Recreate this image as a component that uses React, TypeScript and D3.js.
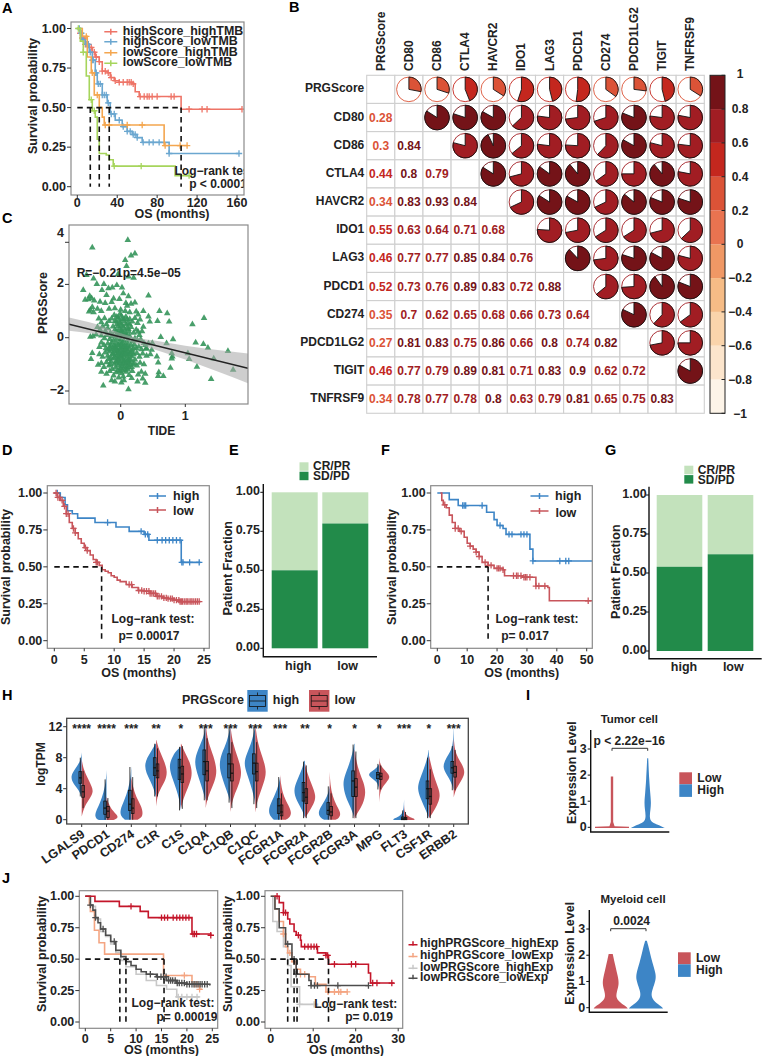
import React from "react";
import * as d3 from "d3";

const FF = "'Liberation Sans', Arial, sans-serif";
type P = [number, number];

// ---------- Panel A ----------
const aHighHigh: P[] = [[0,1],[3,.97],[5,.94],[8,.9],[12,.88],[15,.85],[18,.82],[22,.79],[25,.73],[30,.72],[33,.69],[37,.67],[42,.66],[55,.65],[58,.6],[62,.57],[104,.49],[165,.49]];
const aHighLow: P[] = [[0,1],[3,.97],[5,.93],[8,.9],[12,.85],[15,.8],[18,.72],[20,.65],[25,.58],[30,.53],[33,.46],[38,.42],[45,.38],[50,.35],[55,.33],[60,.31],[65,.28],[91,.28],[92,.21],[162,.21]];
const aLowHigh: P[] = [[0,1],[5,.95],[10,.82],[14,.72],[17,.58],[22,.5],[25,.44],[27,.39],[86,.39],[87,.26],[110,.26]];
const aLowLow: P[] = [[0,1],[3,.92],[6,.85],[9,.7],[12,.55],[15,.48],[18,.44],[20,.3],[22,.21],[29,.2],[32,.17],[36,.13],[97,.13],[98,.07],[112,.07]];
const aCensHH = [3,5,8,11,14,17,19,22,25,28,31,34,38,42,46,50,52,54,56,63,67,70,72,75,80,94,97,112,125,130,165];
const aCensHL = [2,4,6,9,11,13,15,16,18,19,21,23,25,27,29,31,34,37,42,46,50,53,56,58,60,66,72,76,82,92,162];
const aCensLH = [9,15,20,28,32,50,65,88,103,110];
const aCensLL = [1,6,14,17,37,64,112];

// ---------- Panel B ----------
const genes = ["PRGScore","CD80","CD86","CTLA4","HAVCR2","IDO1","LAG3","PDCD1","CD274","PDCD1LG2","TIGIT","TNFRSF9"];
const corrLower: number[][] = [
  [],
  [.28],
  [.3,.84],
  [.44,.8,.79],
  [.34,.83,.93,.84],
  [.55,.63,.64,.71,.68],
  [.46,.77,.77,.85,.84,.76],
  [.52,.73,.76,.89,.83,.72,.88],
  [.35,.7,.62,.65,.68,.66,.73,.64],
  [.27,.81,.83,.75,.86,.66,.8,.74,.82],
  [.46,.77,.79,.89,.81,.71,.83,.9,.62,.72],
  [.34,.78,.77,.78,.8,.63,.79,.81,.65,.75,.83],
];
const corrColors = ["#FDF4E8","#FCE5CC","#FAD4AB","#F6BC86","#F09865","#E97350","#DB5337","#C4271E","#A11D23","#741318"];
const corrTicks = [1,.8,.6,.4,.2,0,-.2,-.4,-.6,-.8,-1];

// ---------- Panel C ----------
const scatter: P[] = [
[.11,3.66],[-.44,3.38],[.22,3.16],[.16,3.08],[.07,2.91],[.09,2.69],[-.53,2.35],[-.04,2.39],[.12,2.29],[.2,2.25],[-.42,2.22],[-.26,2.01],[-.58,1.79],[-.37,2.01],[-.29,1.79],
[-.19,1.85],[-.13,1.88],[-.06,1.97],[.02,1.88],[-.22,1.6],[-.11,1.47],[.04,1.66],[.12,1.55],[.43,1.58],[-.48,1.56],[-.55,1.42],[-.45,1.48],[-.5,1.44],[-.41,1.39],[-.32,1.35],[-.24,1.3],
[-.14,1.34],[-.02,1.45],[.08,1.3],[.1,1.2],[.16,1.27],[.22,1.32],[-.47,1.05],[-.44,1.15],[-.49,.98],[-.42,.95],[-.36,1.08],[-.3,1.0],[-.18,1.08],[-.09,1.1],[.0,1.05],[.07,1.0],[.14,.95],[.24,.98],[.35,1],[.27,.87],
[.6,1],[.72,.91],[.57,.62],[.75,.6],[.43,.79],[.45,.6],[.35,.41],[.27,.22],[1.29,.74],[1.11,.5],
[-.34,.72],[-.3,.58],[-.25,.73],[-.22,.5],[-.18,.62],[-.14,.72],[-.1,.85],[-.07,.6],[-.04,.75],[-.01,.9],[.02,.7],[.05,.62],[.08,.78],[.11,.55],[.14,.7],[.18,.6],[.22,.74],[.26,.55],[.3,.68],
[-.36,.4],[-.32,.3],[-.28,.42],[-.24,.25],[-.2,.35],[-.16,.18],[-.12,.42],[-.09,.3],[-.06,.5],[-.04,.2],[-.02,.35],[0,.52],[.02,.28],[.04,.42],[.07,.15],[.1,.36],[.13,.22],[.16,.4],[.2,.18],[.24,.3],[.29,.1],[.33,.24],
[-.47,.03],[-.43,.05],[-.38,.12],[-.3,.08],[-.25,-.02],[-.21,.1],[-.17,-.05],[-.14,.05],[-.11,-.1],[-.08,.06],[-.06,-.04],[-.03,.1],[0,-.05],[.03,.08],[.05,-.12],[.08,.02],[.11,-.08],[.14,.05],[.18,-.14],[.22,-.02],[.26,-.1],[.31,-.06],[.36,-.2],[.62,.02],[.81,-.06],
[-.33,-.35],[-.3,-.18],[-.26,-.28],[-.23,-.4],[-.2,-.22],[-.17,-.34],[-.14,-.18],[-.12,-.42],[-.1,-.27],[-.08,-.38],[-.06,-.2],[-.05,-.48],[-.03,-.3],[-.01,-.42],[.01,-.24],[.03,-.36],[.05,-.5],[.07,-.28],[.09,-.44],[.11,-.22],[.13,-.38],[.16,-.3],[.18,-.46],[.21,-.25],[.24,-.4],[.28,-.33],[.32,-.44],[.38,-.28],[.43,-.22],[.49,-.2],[.4,-.4],[.48,-.46],[.39,-.42],
[-.44,-.58],[-.46,-.8],[-.33,-.62],[-.28,-.72],[-.24,-.56],[-.2,-.68],[-.17,-.52],[-.15,-.76],[-.12,-.6],[-.1,-.5],[-.09,-.72],[-.07,-.58],[-.05,-.66],[-.04,-.82],[-.02,-.55],[-.01,-.7],[.01,-.6],[.02,-.78],[.04,-.52],[.05,-.68],[.07,-.84],[.08,-.58],[.1,-.72],[.11,-.62],[.13,-.8],[.15,-.55],[.17,-.7],[.2,-.62],[.22,-.82],[.25,-.58],[.29,-.72],[.34,-.6],[.4,-.68],[.46,-.62],[.56,-.71],[.79,-.59],[.8,-.71],[.79,-.78],[1.04,-.59],[1.06,-.8],
[-.35,-1.02],[-.3,-.95],[-.26,-1.1],[-.22,-.92],[-.18,-1.05],[-.15,-.9],[-.13,-1.18],[-.1,-.98],[-.08,-1.12],[-.06,-.92],[-.04,-1.05],[-.02,-.95],[0,-1.15],[.02,-1.0],[.04,-.9],[.06,-1.08],[.08,-.96],[.1,-.88],[.12,-1.02],[.14,-.92],[.17,-1.1],[.21,-.96],[.25,-1.05],[.3,-.94],[.36,-1.0],[.58,-.93],[.77,-1.13],[1.18,-1.09],[1.44,-.78],[1.66,-.5],[1.74,-1.21],[1.16,-.18],[1.28,-.24],[1.35,-.38],[.71,-.21],
[-.3,-1.28],[-.22,-1.36],[-.17,-1.25],[-.11,-1.42],[-.07,-1.3],[-.03,-1.5],[.01,-1.34],[.04,-1.46],[.08,-1.28],[.13,-1.4],[.18,-1.25],[.27,-1.38],[.32,-1.28],[.38,-1.36],[.59,-1.3],[.66,-1.44],[.58,-1.44],[.12,-1.94],[-.27,-1.8],[.26,-1.65],[.38,-1.69],[.34,-1.53],[.05,-1.6],[-.09,-1.65],[.01,-1.68],[1.4,-1.55],[-.14,-1.6],[.17,-1.52],
[-.16,-.44],[-.13,-.62],[-.11,-.78],[-.09,-.35],[-.07,-.9],[-.06,-.46],[-.05,-.76],[-.04,-.28],[-.03,-.6],[-.02,-.88],[-.01,-.16],[0,-.36],[0,-.72],[.01,-.48],[.02,-1.08],[.03,-.64],[.03,-.2],[.04,-.82],[.05,-.34],[.06,-.94],[.07,-.6],[.08,-.44],[.09,-1.12],[.1,-.32],[.11,-.86],[.12,-.5],[.13,-1.12],[.14,-.64],[.16,-.84],[.18,-.56],[.19,-1.0],[.2,-.4],[-.12,.1],[-.09,.62],[-.07,.24],[-.06,.78],[-.05,.08],[-.04,.44],[-.03,.64],[-.02,.12],[-.01,.56],[0,.24],[.01,.82],[.02,.45],[.03,.18],[.05,.7],[.06,.3],[.08,.5],[.09,.14],[.1,.68],[.12,.32],[.14,.5],[-.04,-1.22],[-.01,-1.26],[.03,-1.22],[.07,-1.2],[.11,-1.2],[-.19,-.8],[-.16,-1.0],[.15,-1.02],[-.2,-.46],[-.15,-.3],
];
const trendX = [-.8,1.97];
const trendY = [.51,-1.15];
const bandX = [-.8,-.4,0,.2,.5,1,1.5,1.97];
const bandTop = [.76,.52,.17,.03,-.1,-.3,-.46,-.59];
const bandBottom = [.26,.14,-.06,-.2,-.42,-.82,-1.27,-1.71];

// ---------- Panel D ----------
const dHigh: P[] = [[0,1],[1,.97],[1.8,.92],[2.2,.88],[3,.86],[3.9,.83],[6.8,.8],[10.3,.77],[12.5,.74],[15,.72],[15.8,.68],[21.2,.53],[24.4,.53]];
const dLow: P[] = [[0,1],[.5,.97],[1,.95],[1.5,.91],[2,.86],[2.5,.8],[3,.76],[3.5,.73],[4,.69],[4.5,.66],[5,.63],[5.5,.61],[6,.58],[6.5,.55],[7,.53],[7.5,.51],[8,.48],[8.5,.47],[9,.46],[9.5,.44],[10,.43],[10.5,.41],[11,.4],[12,.38],[13,.36],[14,.34],[15,.335],[16,.32],[17,.3],[18,.29],[19,.285],[20,.275],[21,.265],[24.3,.26]];
const dCensHigh = [.5,1,8.9,14.5,15.2,15.6,17.2,18,18.6,19.2,19.8,20.4,21,21.3,21.5,22.6,24.2];
const dCensLow = [.3,.6,.9,1.3,1.7,2,2.3,3.2,3.5,5.2,5.5,7,7.2,12.5,12.9,14.1,14.6,15,15.4,15.8,16,16.3,16.6,16.9,17.2,17.5,17.9,18.3,18.7,19,19.4,19.7,20,20.4,20.8,21,21.2,21.4,21.7,22,22.2,22.5,22.8,23,23.3,23.6,23.9,24.2];

// ---------- Panel E / G ----------
const responseGroups = ["high","low"];
const eSdPd = [.5,.8];
const gSdPd = [.54,.62];

// ---------- Panel F ----------
const fHigh: P[] = [[0,1],[4,.955],[7,.915],[16.5,.87],[19,.82],[20,.78],[22,.76],[23,.72],[30,.72],[31,.62],[32,.54],[52,.54]];
const fLow: P[] = [[1,1],[1.5,.95],[2,.92],[3,.9],[4,.85],[5,.8],[6,.76],[7.5,.74],[9,.7],[10,.66],[11,.64],[12,.62],[13,.6],[14,.57],[15,.53],[17,.51],[19,.49],[22,.48],[22.5,.44],[28,.44],[28.5,.43],[33,.37],[37,.36],[37.5,.27],[52,.27]];
const fCensHigh = [8.5,9,9.5,15,21,24,25,28,29,30,32,41,43,44];
const fCensLow = [2.5,6,7,8,11,13,14,16,17,18,20,20.5,21,22,25.5,26.5,27,28,29,29.5,30,31,33,34,36,50.5];

// ---------- Panel H ----------
const hGenes = ["LGALS9","PDCD1","CD274","C1R","C1S","C1QA","C1QB","C1QC","FCGR1A","FCGR2A","FCGR2B","FCGR3A","MPG","FLT3","CSF1R","ERBB2"];
const hStars = ["****","****","***","**","*","***","***","***","***","**","*","*","*","***","*","***"];
const violinHigh: P[][] = [
  [[8.7,0],[7.6,.08],[6.6,.55],[5.6,1],[4.6,.72],[3.7,.18],[2.8,0]],
  [[6.4,0],[5,.05],[3.5,.25],[2.2,.55],[1,.95],[.4,1],[0,.8],[-.05,.6]],
  [[6.9,0],[5.5,.06],[4,.25],[2.5,.6],[1.2,1],[.4,.9],[0,.55]],
  [[9.8,.05],[9,.35],[8,.8],[7,1],[6,.85],[5,.5],[4,.2],[2.8,0]],
  [[9.4,.02],[8.8,.5],[7.6,.9],[6.8,1],[5.5,.8],[4,.4],[2.5,.12],[1.2,0]],
  [[12,.02],[10.5,.2],[9,.7],[7.5,1],[6,.75],[4.5,.4],[3,.1],[2.5,0]],
  [[12,.02],[10,.3],[8.5,.8],[7,1],[5.5,.75],[4,.4],[3,.15],[2.2,0]],
  [[12,.02],[10,.3],[8.5,.75],[7.3,1],[6,.75],[4.5,.4],[3,.12],[2,0]],
  [[5.5,0],[4.5,.12],[3.2,.45],[2,.85],[1.2,1],[.5,.9],[0,.55]],
  [[7.6,.05],[6.5,.25],[5,.7],[3.8,1],[2.5,.75],[1.2,.2],[.2,0]],
  [[4.4,0],[3.4,.12],[2.5,.4],[1.6,.8],[.9,1],[.3,.85],[0,.5]],
  [[9.8,.03],[8.5,.18],[7,.5],[5.5,.9],[4.5,1],[3,.8],[1.5,.3],[.2,0]],
  [[7.2,0],[6.7,.2],[6.2,.7],[5.8,1],[5.3,.6],[4.8,.15],[3.9,0]],
  [[2.6,0],[1.8,.03],[1,.08],[.4,.4],[.1,1],[-.05,.9]],
  [[9,.02],[8,.12],[6.5,.45],[5,.85],[4,1],[2.8,.75],[1.2,.25],[.2,0]],
  [[12.2,0],[10,.05],[9,.2],[8,.65],[6.8,1],[5.8,.6],[4.8,.2],[3.8,0]],
];
const violinLow: P[][] = [
  [[7.8,0],[6.5,.15],[5.3,.55],[4.2,.9],[3.6,1],[2.8,.75],[1.8,.25],[.4,0]],
  [[3,0],[2,.2],[1.3,.45],[.6,.95],[.2,1],[-.05,.6]],
  [[5.5,0],[4.2,.15],[3,.4],[1.8,.85],[1,1],[.3,.95],[0,.55]],
  [[10.3,.02],[9,.25],[7.6,.7],[6.2,1],[5,.8],[3.8,.3],[2.8,.08],[1.7,0]],
  [[9.8,.02],[8.8,.3],[7.4,.8],[6,1],[4.8,.8],[3.4,.4],[2.2,.12],[1.4,0]],
  [[12.1,.02],[10,.2],[8.2,.7],[6.3,1],[5,.8],[3.5,.35],[2.4,.1],[1.5,0]],
  [[11.8,.02],[9.8,.2],[8,.65],[6.2,1],[4.8,.8],[3.3,.35],[2,.1],[1,0]],
  [[12,.02],[9.8,.22],[8,.65],[6.2,1],[4.8,.75],[3.2,.35],[2,.1],[.9,0]],
  [[5.8,0],[4.5,.08],[3,.3],[1.8,.75],[.9,1],[.3,.85],[0,.5]],
  [[7.2,.02],[6,.2],[4.5,.6],[3,1],[2,.75],[1,.35],[.2,0]],
  [[6.2,0],[4.5,.05],[3,.25],[1.8,.6],[.8,1],[.2,.8],[0,.5]],
  [[9,.02],[7.8,.12],[6.2,.4],[4.8,.8],[3.5,1],[2,.75],[1,.3],[.1,0]],
  [[8,0],[7,.08],[6.2,.6],[5.5,1],[4.8,.6],[4,.15],[3,.03],[2.2,0]],
  [[2,0],[1.2,.03],[.6,.15],[.2,.7],[.05,1],[-.05,.8]],
  [[8.2,.02],[7,.2],[5.5,.45],[4,.85],[3,1],[1.8,.7],[.8,.3],[.2,0]],
  [[10.3,.02],[9,.1],[8,.35],[7,.8],[6,1],[5,.65],[4,.2],[2.9,0]],
];
const boxHigh: number[][] = [[3,4.7,5.4,6.2,8],[0,.7,1.5,2.4,5.2],[0,1.2,2,3.8,6.8],[3,5.7,6.7,8,9.8],[1.2,5.2,6.7,7.8,9.4],[2.5,5.8,7.5,9,12],[2.2,5.4,7.2,8.5,12],[2,5.9,7.3,8.5,12],[0,.8,1.8,2.7,5.5],[.2,2.4,3.5,4.8,7.5],[0,.7,1.2,2.2,4.3],[.2,3,5,6.3,9.7],[3.9,5.3,5.8,6.1,7.2],[0,0,.1,.35,1.2],[.2,2.7,4,5,8],[3.8,6,6.7,7.5,9.5]];
const boxLow: number[][] = [[1.5,2.9,3.6,4.4,6.3],[0,.3,1.1,1.7,2.8],[0,.8,1.5,2.7,5.5],[3,5.4,6.3,7.2,9.2],[1.4,4.8,5.9,6.9,9.5],[2.5,5,6.3,7.5,10.5],[1.5,5,6,7.2,10],[1.5,5,6.2,7.3,10],[0,.5,1,1.9,3.4],[.2,2.1,2.9,4,7],[0,.5,1,1.7,3.4],[.2,3,4.2,5.3,8.8],[3.9,5.2,5.6,6,7],[0,0,.1,.3,1],[.2,2,3,4,6.5],[3.8,5.5,6.1,6.9,9]];

// ---------- Panel I ----------
const tumorLow: P[] = [[-.03,1],[.02,1],[.04,.15],[.2,.07],[1.95,.07]];
const tumorHigh: P[] = [[-.03,1],[.03,.85],[.12,.5],[.2,.2],[.4,.1],[.7,.17],[.95,.2],[1.3,.15],[1.8,.09],[2.65,.03]];
const myeloidLow: P[] = [[-.03,1],[.03,.95],[.15,.65],[.35,.3],[.6,.35],[.9,.5],[1.2,.42],[1.6,.27],[2.05,.12]];
const myeloidHigh: P[] = [[-.03,1],[.03,.95],[.15,.65],[.4,.27],[.7,.38],[1.05,.58],[1.3,.58],[1.7,.38],[2.2,.2],[2.55,.05]];

// ---------- Panel J ----------
const jLeftRed: P[] = [[0,1],[1.9,.96],[6.7,.92],[10.8,.88],[12.4,.83],[21,.7],[24.7,.69]];
const jLeftOrange: P[] = [[0,1],[.8,.93],[1,.88],[1.8,.73],[2.7,.63],[3.8,.54],[15.4,.37],[21,.3],[22.5,.26],[23,.26]];
const jLeftGrey: P[] = [[0,1],[1,.92],[2,.82],[3,.72],[4,.68],[5,.62],[6,.55],[7,.49],[8,.44],[10,.38],[12,.33],[14,.29],[16,.26],[18,.2],[22.5,.2]];
const jLeftDark: P[] = [[0,1],[1,.93],[1.5,.89],[2,.83],[2.5,.79],[3,.74],[4,.69],[5,.64],[6,.57],[7,.52],[8,.48],[9,.45],[10,.42],[11,.4],[12,.38],[14,.36],[16,.33],[18,.31],[20,.3],[24.5,.29]];
const jLeftCensRed = [9,15,15.6,16.2,17.3,18,18.6,19.2,19.8,20.4,21.2,21.5,21.9,24.7];
const jLeftCensOrange = [19.5,21.5,22,22.5];
const jLeftCensGrey = [18.3,19,20,21,22];
const jLeftCensDark = [1,2,3.5,5.7,12.8,14.2,14.9,15.4,15.9,16.4,16.8,17.2,17.7,18.1,18.5,19,19.5,20,20.5,21,21.4,21.8,22.2,22.6,23,23.5,24];
const jRightRed: P[] = [[1,1],[2,.95],[3,.87],[4,.82],[4.5,.78],[5.5,.72],[6,.69],[7,.65],[7.2,.6],[11,.55],[13,.53],[13.6,.46],[23,.39],[23.5,.31],[29,.31]];
const jRightOrange: P[] = [[0,1],[1,.9],[2,.8],[3,.7],[3.5,.6],[4,.55],[5,.48],[6,.42],[7,.38],[9,.36],[10.5,.3],[13,.24],[18,.24]];
const jRightGrey: P[] = [[0,1],[.5,.8],[1.5,.72],[3,.6],[4,.45],[4.8,.28],[6.8,.14],[10,.14],[11,.13]];
const jRightDark: P[] = [[0,1],[1,.9],[2,.75],[3.5,.62],[5,.5],[6,.38],[9,.33],[9.5,.29],[23,.29]];
const jRightCensRed = [1.5,3,3.5,6.5,8,8.8,9.5,10.2,10.8,13,13.4,15,19,20,24,25,28.5];
const jRightCensOrange = [3,4.5,5.5,7,8,13.5,15,16,16.5,18];
const jRightCensGrey = [6.8,10.2];
const jRightCensDark = [4,5.5,6,9.5,10.3,11,15.8,23];

// ---------- Colours ----------
const BLUE = "#3D85C6";
const RED = "#C8555B";
const LIGHT_GREEN = "#C3E2BC";
const DARK_GREEN = "#228B4A";
const A_COLORS = ["#EE7467","#6BA7D0","#F4A64F","#A6D55C"];
const J_COLORS = ["#C4162A","#F4A582","#C8C8C8","#4D4D4D"];

const surv = (pts: P[], t: number) => {
  const i = d3.bisectRight(pts.map(p => p[0]), t) - 1;
  return pts[Math.max(0, i)][1];
};

interface Serie { pts: P[]; cens: number[]; color: string; width?: number }
interface KMProps {
  id: string;
  box: [number, number, number, number];
  xRange: [number, number];
  xDomain: [number, number];
  yRange: [number, number];
  xTicks: number[];
  series: Serie[];
  dashH: number;
  dashV: number[];
  xTitleAt: [number, number];
  yTitleAt: [number, number];
  tickLabelY: number;
  notes: { t: string; x: number; y: number }[];
  fs?: number;
}
function KM(p: KMProps) {
  const [l, r, t, b] = p.box;
  const x = d3.scaleLinear().domain(p.xDomain).range(p.xRange);
  const y = d3.scaleLinear().domain([0, 1]).range(p.yRange);
  const line = d3.line<P>().x(d => x(d[0])).y(d => y(d[1])).curve(d3.curveStepAfter);
  const yTicks = [0, .25, .5, .75, 1];
  const fs = p.fs ?? 12.5;
  return (
    <g fontFamily={FF}>
      <defs><clipPath id={p.id}><rect x={l} y={t} width={r - l} height={b - t} /></clipPath></defs>
      <g clipPath={`url(#${p.id})`}>
        {p.series.map((s, i) => (
          <g key={i} stroke={s.color} fill="none" strokeWidth={s.width ?? 1.6}>
            <path d={line(s.pts) as string} />
            {s.cens.map((c, k) => {
              const cx = x(c), cy = y(surv(s.pts, c));
              return <path key={k} strokeWidth={1.3} d={`M${cx - 3.2},${cy}H${cx + 3.2}M${cx},${cy - 3.2}V${cy + 3.2}`} />;
            })}
          </g>
        ))}
        <g stroke="#111" strokeWidth={1.6} strokeDasharray="5.5 4" fill="none">
          <line x1={x(0)} x2={x(p.dashH)} y1={y(.5)} y2={y(.5)} />
          {p.dashV.map((v, i) => <line key={i} x1={x(v)} x2={x(v)} y1={y(.5)} y2={y(0)} />)}
        </g>
        {p.notes.map((n, i) => (
          <text key={i} x={n.x} y={n.y} textAnchor="middle" dominantBaseline="central" fontSize={12} fontWeight="bold" fill="#222">{n.t}</text>
        ))}
      </g>
      <rect x={l} y={t} width={r - l} height={b - t} fill="none" stroke="#8a8a8a" strokeWidth={1.2} />
      {yTicks.map(v => (
        <g key={v}>
          <line x1={l - 4} x2={l} y1={y(v)} y2={y(v)} stroke="#333" />
          <text x={l - 5} y={y(v)} textAnchor="end" dominantBaseline="central" fontSize={fs} fontWeight="bold" fill="#222">{v.toFixed(2)}</text>
        </g>
      ))}
      {p.xTicks.map(v => (
        <g key={v}>
          <line x1={x(v)} x2={x(v)} y1={b} y2={b + 3} stroke="#333" />
          <text x={x(v)} y={p.tickLabelY} textAnchor="middle" dominantBaseline="central" fontSize={fs} fontWeight="bold" fill="#222">{v}</text>
        </g>
      ))}
      <text x={p.xTitleAt[0]} y={p.xTitleAt[1]} textAnchor="middle" dominantBaseline="central" fontSize={12.5} fontWeight="bold" fill="#222">OS (months)</text>
      <text transform={`translate(${p.yTitleAt[0]},${p.yTitleAt[1]}) rotate(-90)`} textAnchor="middle" dominantBaseline="central" fontSize={12.5} fontWeight="bold" fill="#222">Survival probability</text>
    </g>
  );
}

function KeyLine({ x, x2, y, color }: { x: number; x2: number; y: number; color: string }) {
  const m = (x + x2) / 2;
  return <path stroke={color} fill="none" strokeWidth={1.5} d={`M${x},${y}H${x2}M${m},${y - 3}V${y + 3}`} />;
}

function Letter({ t, x, y }: { t: string; x: number; y: number }) {
  return <text x={x} y={y} fontFamily={FF} fontSize={14.5} fontWeight="bold" fill="#000">{t}</text>;
}

function Corr() {
  const l = 366.7, r = 704.3, t = 75.3, b = 413.3;
  const n = genes.length;
  const band = d3.scaleBand<number>().domain(d3.range(n)).range([l, r]);
  const bandY = d3.scaleBand<number>().domain(d3.range(n)).range([t, b]);
  const color = d3.scaleQuantize<string>().domain([-1, 1]).range(corrColors);
  const barY = d3.scaleLinear().domain([-1, 1]).range([b, t]);
  const R = 12.3;
  const arc = d3.arc<{ v: number }>().innerRadius(0).outerRadius(R).startAngle(0).endAngle(d => 2 * Math.PI * d.v);
  const w = band.bandwidth();
  const binEdges = d3.range(10).map(i => -1 + i * .2);
  return (
    <g fontFamily={FF} fontWeight="bold">
      {genes.map((g, i) => (
        <g key={g}>
          <text x={364.3} y={bandY(i)! + w / 2 - 1} textAnchor="end" dominantBaseline="central" fontSize={12} fill="#222">{g}</text>
          <text transform={`translate(${band(i)! + w / 2},71) rotate(-90)`} dominantBaseline="central" fontSize={12} fill="#222">{g}</text>
        </g>
      ))}
      {d3.range(n).map(i => d3.range(n).map(j => (
        <rect key={`${i}-${j}`} x={band(j)} y={bandY(i)} width={w} height={w} fill="#fff" stroke="#cfcfcf" strokeWidth={1.1} />
      )))}
      {corrLower.map((row, i) => row.map((v, j) => {
        const c = color(v);
        const cx = band(j)! + w / 2, cy = bandY(i)! + w / 2;
        const cu = band(i)! + w / 2, cv = bandY(j)! + w / 2;
        return (
          <g key={`${i}-${j}`}>
            <text x={cx} y={cy} textAnchor="middle" dominantBaseline="central" fontSize={12} fill={c}>{String(v)}</text>
            <g transform={`translate(${cu},${cv})`}>
              <circle r={R} fill="#fff" stroke={c} strokeWidth={.9} />
              <path d={arc({ v }) as string} fill={c} stroke="#111" strokeWidth={.9} />
            </g>
          </g>
        );
      }))}
      {binEdges.map((e, i) => (
        <rect key={i} x={710} width={15} y={barY(e + .2)} height={barY(e) - barY(e + .2)} fill={corrColors[i]} />
      ))}
      <rect x={710} y={t} width={15} height={b - t} fill="none" stroke="#222" strokeWidth={1} />
      {corrTicks.map(v => (
        <g key={v}>
          <line x1={721.5} x2={725} y1={barY(v)} y2={barY(v)} stroke="#222" />
          <text x={740} y={barY(v) - (v === 1 ? 1 : v === -1 ? -1 : 0)} textAnchor="middle" dominantBaseline="central" fontSize={12} fill="#222">{String(v).replace("-", "−")}</text>
        </g>
      ))}
    </g>
  );
}

function Scatter() {
  const l = 69, r = 248, t = 225, b = 404;
  const x = d3.scaleLinear().domain([0, 1]).range([120.7, 185.3]);
  const y = d3.scaleLinear().domain([-2, 0]).range([391, 337.7]);
  const tri = d3.symbol().type(d3.symbolTriangle).size(19)() as string;
  const band = d3.area<number>().x((_, i) => x(bandX[i])).y0((_, i) => y(bandBottom[i])).y1((_, i) => y(bandTop[i])).curve(d3.curveMonotoneX);
  const line = d3.line<number>().x((_, i) => x(trendX[i])).y(d => y(d));
  return (
    <g fontFamily={FF} fontWeight="bold" fill="#222">
      <defs><clipPath id="cclip"><rect x={l} y={t} width={r - l} height={b - t} /></clipPath></defs>
      <g clipPath="url(#cclip)">
        {scatter.map((p, i) => <path key={i} d={tri} transform={`translate(${x(p[0])},${y(p[1])})`} fill="#35955B" fillOpacity={.9} />)}
        <path d={band(bandX) as string} fill="#a6a6a6" fillOpacity={.55} />
        <path d={line(trendY) as string} stroke="#222" strokeWidth={1.5} fill="none" />
      </g>
      <rect x={l} y={t} width={r - l} height={b - t} fill="none" stroke="#8a8a8a" strokeWidth={1.2} />
      {[-2, 0, 2].map(v => (
        <g key={v}>
          <line x1={l - 4} x2={l} y1={y(v)} y2={y(v)} stroke="#333" />
          <text x={l - 5} y={y(v) - 1} textAnchor="end" dominantBaseline="central" fontSize={12.5}>{String(v).replace("-", "−")}</text>
        </g>
      ))}
      <line x1={l - 4} x2={l} y1={242.3} y2={242.3} stroke="#333" />
      <text x={l - 5} y={233} textAnchor="end" dominantBaseline="central" fontSize={12.5}>4</text>
      {[0, 1].map(v => (
        <g key={v}>
          <line x1={x(v)} x2={x(v)} y1={b} y2={b + 3} stroke="#333" />
          <text x={x(v)} y={416} textAnchor="middle" dominantBaseline="central" fontSize={12.5}>{v}</text>
        </g>
      ))}
      <text x={161.5} y={431} textAnchor="middle" dominantBaseline="central" fontSize={12}>TIDE</text>
      <text transform="translate(42.7,303) rotate(-90)" textAnchor="middle" dominantBaseline="central" fontSize={12.5}>PRGScore</text>
      <text x={76.7} y={272.7} dominantBaseline="central" fontSize={12}>R=−0.21p=4.5e−05</text>
    </g>
  );
}

interface BarsProps {
  axisLeft: number; axisBottom: number; axisTop: number; axisRight: number;
  barLefts: number[]; barW: number; y1: number; y0: number; values: number[];
  labelX: number[]; labelY: number; titleAt: [number, number];
  legendX: number; legendY: number; tickRight: number;
}
function Bars(p: BarsProps) {
  const y = d3.scaleLinear().domain([0, 1]).range([p.y0, p.y1]);
  return (
    <g fontFamily={FF} fontWeight="bold" fill="#222">
      {p.values.map((v, i) => (
        <g key={i}>
          <rect x={p.barLefts[i]} width={p.barW} y={y(1)} height={y(v) - y(1)} fill={LIGHT_GREEN} />
          <rect x={p.barLefts[i]} width={p.barW} y={y(v)} height={y(0) - y(v)} fill={DARK_GREEN} />
          <text x={p.labelX[i]} y={p.labelY} textAnchor="middle" dominantBaseline="central" fontSize={12.5}>{responseGroups[i]}</text>
        </g>
      ))}
      <path d={`M${p.axisLeft},${p.axisTop}V${p.axisBottom}H${p.axisRight}`} fill="none" stroke="#111" strokeWidth={1.4} />
      {[0, .25, .5, .75, 1].map(v => (
        <g key={v}>
          <line x1={p.axisLeft - 3} x2={p.axisLeft} y1={y(v)} y2={y(v)} stroke="#111" />
          <text x={p.tickRight} y={y(v) - 1} textAnchor="end" dominantBaseline="central" fontSize={12.5}>{v.toFixed(2)}</text>
        </g>
      ))}
      <text transform={`translate(${p.titleAt[0]},${p.titleAt[1]}) rotate(-90)`} textAnchor="middle" dominantBaseline="central" fontSize={12.5}>Patient Fraction</text>
      <rect x={p.legendX} y={p.legendY} width={9} height={8.5} fill={LIGHT_GREEN} />
      <rect x={p.legendX} y={p.legendY + 9.4} width={9} height={8.5} fill={DARK_GREEN} />
      <text x={p.legendX + 13.5} y={p.legendY + 4} dominantBaseline="central" fontSize={12}>CR/PR</text>
      <text x={p.legendX + 13.5} y={p.legendY + 14} dominantBaseline="central" fontSize={12}>SD/PD</text>
    </g>
  );
}

function Violins() {
  const l = 66.7, r = 468.3, t = 718.3, b = 824;
  const x = d3.scalePoint<string>().domain(hGenes).range([81.7, 453.7]);
  const y = d3.scaleLinear().domain([0, 12]).range([819.7, 726.7]);
  const wScale = d3.scaleLinear().domain([0, 1]).range([0, 11.5]);
  const area = (cx: number, dir: number) =>
    d3.area<P>().y(d => y(d[0])).x0(cx).x1(d => cx + dir * wScale(d[1])).curve(d3.curveBasis);
  const box = (cx: number, s: number[], k: string) => (
    <g key={k} stroke="#111" strokeWidth={.8} fill="none">
      <line x1={cx} x2={cx} y1={y(s[0])} y2={y(s[4])} />
      <rect x={cx - 1.35} width={2.7} y={y(s[3])} height={y(s[1]) - y(s[3])} />
      <line x1={cx - 1.35} x2={cx + 1.35} y1={y(s[2])} y2={y(s[2])} strokeWidth={1.2} />
    </g>
  );
  return (
    <g fontFamily={FF} fontWeight="bold" fill="#222">
      {hGenes.map((g, i) => {
        const cx = x(g)!;
        return (
          <g key={g}>
            <path d={area(cx, -1)(violinHigh[i]) as string} fill={BLUE} />
            <path d={area(cx, 1)(violinLow[i]) as string} fill={RED} />
            {box(cx - 1.4, boxHigh[i], "h")}
            {box(cx + 1.4, boxLow[i], "l")}
            <text x={cx} y={729} textAnchor="middle" dominantBaseline="central" fontSize={12} fill="#222">{hStars[i]}</text>
            <line x1={cx} x2={cx} y1={b} y2={b + 3} stroke="#333" />
            <text transform={`translate(${cx + 4},836) rotate(-35)`} textAnchor="end" fontSize={12.5}>{g}</text>
          </g>
        );
      })}
      <rect x={l} y={t} width={r - l} height={b - t} fill="none" stroke="#444" strokeWidth={1.3} />
      {[0, 4, 8, 12].map(v => (
        <g key={v}>
          <line x1={l - 3.5} x2={l} y1={y(v)} y2={y(v)} stroke="#333" />
          <text x={62.5} y={y(v)} textAnchor="end" dominantBaseline="central" fontSize={12.5}>{v}</text>
        </g>
      ))}
      <text transform="translate(41,764) rotate(-90)" textAnchor="middle" dominantBaseline="central" fontSize={12}>logTPM</text>
      <text x={182} y={700} dominantBaseline="central" fontSize={12.5}>PRGScore</text>
      {[{ x0: 247.3, c: BLUE, lab: "high" }, { x0: 309, c: RED, lab: "low" }].map(k => (
        <g key={k.lab}>
          <rect x={k.x0} y={690} width={20.4} height={21.7} fill={k.c} />
          <g stroke="#111" strokeWidth={.8} fill="none">
            <line x1={k.x0 + 10.2} x2={k.x0 + 10.2} y1={692.5} y2={709.5} />
            <rect x={k.x0 + 2.2} y={695.5} width={16} height={11} fill={k.c} />
            <line x1={k.x0 + 2.2} x2={k.x0 + 18.2} y1={701} y2={701} />
          </g>
          <text x={k.x0 + 25.5} y={700} dominantBaseline="central" fontSize={12.5}>{k.lab}</text>
        </g>
      ))}
    </g>
  );
}

interface SCProps {
  title: string; titleAt: [number, number]; stat: string; statAt: [number, number];
  left: number; bottom: number; top: number; right: number; y3: number; y0: number;
  cx: [number, number]; low: P[]; high: P[]; bracketY: number; axisTitleAt: [number, number];
  legendX: number; legendY: number; linearLow?: boolean;
}
function SingleCell(p: SCProps) {
  const y = d3.scaleLinear().domain([0, 3]).range([p.y0, p.y3]);
  const w = d3.scaleLinear().domain([0, 1]).range([0, 17]);
  const shape = (cx: number, linear: boolean) => d3.area<P>().y(d => y(d[0])).x0(d => cx - w(d[1])).x1(d => cx + w(d[1])).curve(linear ? d3.curveLinear : d3.curveBasis);
  return (
    <g fontFamily={FF} fontWeight="bold" fill="#222">
      <text x={p.titleAt[0]} y={p.titleAt[1]} textAnchor="middle" dominantBaseline="central" fontSize={11.5}>{p.title}</text>
      <path d={shape(p.cx[0], !!p.linearLow)(p.low) as string} fill={RED} />
      <path d={shape(p.cx[1], false)(p.high) as string} fill={BLUE} />
      <path d={`M${p.left},${p.top}V${p.bottom}H${p.right}`} fill="none" stroke="#111" strokeWidth={1.4} />
      {[0, 1, 2, 3].map(v => (
        <g key={v}>
          <line x1={p.left - 3} x2={p.left} y1={y(v)} y2={y(v)} stroke="#111" />
          <text x={p.left - 4} y={y(v)} textAnchor="end" dominantBaseline="central" fontSize={12.5}>{v}</text>
        </g>
      ))}
      <text transform={`translate(${p.axisTitleAt[0]},${p.axisTitleAt[1]}) rotate(-90)`} textAnchor="middle" dominantBaseline="central" fontSize={12.5}>Expression Level</text>
      <path d={`M${p.cx[0]},${p.bracketY + 2.5}V${p.bracketY}H${p.cx[1]}V${p.bracketY + 2.5}`} fill="none" stroke="#333" />
      <text x={p.statAt[0]} y={p.statAt[1]} textAnchor="middle" dominantBaseline="central" fontSize={12}>{p.stat}</text>
      <rect x={p.legendX} y={p.legendY} width={12.7} height={12} fill={RED} />
      <rect x={p.legendX} y={p.legendY + 12} width={12.7} height={12.6} fill={BLUE} />
      <text x={p.legendX + 18} y={p.legendY + 6} dominantBaseline="central" fontSize={12}>Low</text>
      <text x={p.legendX + 18} y={p.legendY + 18} dominantBaseline="central" fontSize={12}>High</text>
    </g>
  );
}

export default function App() {
  return (
    <svg width={762} height={1056} viewBox="0 0 762 1056" style={{ position: "absolute", left: 0, top: 0, background: "#fff" }}>
      <Letter t="A" x={2} y={13} />
      <Letter t="B" x={289} y={12} />
      <Letter t="C" x={2} y={223} />
      <Letter t="D" x={2} y={455} />
      <Letter t="E" x={229} y={455} />
      <Letter t="F" x={381} y={455} />
      <Letter t="G" x={605} y={455} />
      <Letter t="H" x={2} y={700} />
      <Letter t="I" x={526} y={700} />
      <Letter t="J" x={2} y={883} />

      <KM id="kmA" box={[71, 244, 22, 195]} xRange={[77.3, 237]} xDomain={[0, 160]} yRange={[186.7, 28.5]}
        xTicks={[0, 40, 80, 120, 160]} tickLabelY={203}
        series={[
          { pts: aHighHigh, cens: aCensHH, color: A_COLORS[0] },
          { pts: aHighLow, cens: aCensHL, color: A_COLORS[1] },
          { pts: aLowHigh, cens: aCensLH, color: A_COLORS[2] },
          { pts: aLowLow, cens: aCensLL, color: A_COLORS[3] },
        ]}
        dashH={104} dashV={[13, 22, 32, 104]} xTitleAt={[172, 214]} yTitleAt={[33, 96]}
        notes={[{ t: "Log−rank test:", x: 216, y: 171 }, { t: "p < 0.0001", x: 218, y: 183.5 }]} />
      {["highScore_highTMB", "highScore_lowTMB", "lowScore_highTMB", "lowScore_lowTMB"].map((t, i) => {
        const y = [31.7, 41.7, 52.7, 63.3][i];
        return (
          <g key={t}>
            <KeyLine x={104.3} x2={117.3} y={y} color={A_COLORS[i]} />
            <text x={122.7} y={y - 1} dominantBaseline="central" fontFamily={FF} fontSize={12.4} fontWeight="bold" fill="#222">{t}</text>
          </g>
        );
      })}

      <Corr />
      <Scatter />

      <KM id="kmD" box={[47.3, 209.3, 485.7, 648.3]} xRange={[54.3, 204]} xDomain={[0, 25]} yRange={[640.7, 493]}
        xTicks={[0, 5, 10, 15, 20, 25]} tickLabelY={659.5}
        series={[{ pts: dHigh, cens: dCensHigh, color: BLUE }, { pts: dLow, cens: dCensLow, color: RED }]}
        dashH={7.9} dashV={[7.9]} xTitleAt={[138.7, 672.7]} yTitleAt={[5.5, 567]}
        notes={[{ t: "Log−rank test:", x: 153, y: 618.5 }, { t: "p= 0.00017", x: 149, y: 636 }]} />
      <KeyLine x={149} x2={166} y={496} color={BLUE} />
      <KeyLine x={149} x2={166} y={510} color={RED} />
      <text x={173} y={496} dominantBaseline="central" fontFamily={FF} fontSize={12.5} fontWeight="bold" fill="#222">high</text>
      <text x={173} y={511} dominantBaseline="central" fontFamily={FF} fontSize={12.5} fontWeight="bold" fill="#222">low</text>

      <Bars axisLeft={263.3} axisBottom={656.7} axisTop={484} axisRight={377} barLefts={[271.7, 322.3]} barW={46}
        y1={492.3} y0={648.3} values={eSdPd} labelX={[298.3, 347.7]} labelY={665.7} titleAt={[227.7, 568.3]}
        legendX={299.5} legendY={462.3} tickRight={260} />

      <KM id="kmF" box={[430.7, 592.3, 485.7, 648.3]} xRange={[437.3, 586.7]} xDomain={[0, 50]} yRange={[640.7, 493]}
        xTicks={[0, 10, 20, 30, 40, 50]} tickLabelY={659.5}
        series={[{ pts: fHigh, cens: fCensHigh, color: BLUE }, { pts: fLow, cens: fCensLow, color: RED }]}
        dashH={17} dashV={[17]} xTitleAt={[521.7, 672.7]} yTitleAt={[392.3, 567]}
        notes={[{ t: "Log−rank test:", x: 537, y: 618.5 }, { t: "p= 0.017", x: 525, y: 636 }]} />
      <KeyLine x={530.5} x2={548.5} y={496} color={BLUE} />
      <KeyLine x={530.5} x2={548.5} y={511} color={RED} />
      <text x={555} y={496} dominantBaseline="central" fontFamily={FF} fontSize={12.5} fontWeight="bold" fill="#222">high</text>
      <text x={555.5} y={513} dominantBaseline="central" fontFamily={FF} fontSize={12.5} fontWeight="bold" fill="#222">low</text>

      <Bars axisLeft={649} axisBottom={658.7} axisTop={486.7} axisRight={761.7} barLefts={[656.7, 707.7]} barW={45.6}
        y1={495} y0={651} values={gSdPd} labelX={[684, 733.3]} labelY={666.7} titleAt={[615.7, 571.7]}
        legendX={684.3} legendY={465.7} tickRight={646.7} />

      <Violins />

      <SingleCell title="Tumor cell" titleAt={[629.3, 719]} stat="p < 2.22e−16" statAt={[629.3, 741]}
        left={590.7} bottom={832} top={730} right={669.3} y3={749} y0={827.3} cx={[612, 647.7]}
        low={tumorLow} high={tumorHigh} bracketY={748.3} axisTitleAt={[571.7, 772.7]} legendX={679.3} legendY={772.3} linearLow />
      <SingleCell title="Myeloid cell" titleAt={[633, 899]} stat="0.0024" statAt={[631.7, 921]}
        left={589.3} bottom={1012.3} top={910} right={667.7} y3={929} y0={1007.7} cx={[610.7, 646]}
        low={myeloidLow} high={myeloidHigh} bracketY={928.7} axisTitleAt={[570, 953.3]} legendX={678} legendY={952.3} />

      <KM id="kmJ1" box={[79.3, 217.7, 890.7, 1028.3]} xRange={[85.3, 212.3]} xDomain={[0, 25]} yRange={[1022, 896.3]}
        xTicks={[0, 5, 10, 15, 20, 25]} tickLabelY={1039}
        series={[
          { pts: jLeftGrey, cens: jLeftCensGrey, color: J_COLORS[2] },
          { pts: jLeftOrange, cens: jLeftCensOrange, color: J_COLORS[1] },
          { pts: jLeftDark, cens: jLeftCensDark, color: J_COLORS[3] },
          { pts: jLeftRed, cens: jLeftCensRed, color: J_COLORS[0] },
        ]}
        dashH={15.5} dashV={[6.8, 8, 15.5]} xTitleAt={[161.5, 1050]} yTitleAt={[42, 954]}
        notes={[{ t: "Log−rank test:", x: 173, y: 1002.7 }, { t: "p= 0.00019", x: 187, y: 1017 }]} />
      <KM id="kmJ2" box={[265, 402.7, 890.7, 1028.3]} xRange={[270.7, 398.2]} xDomain={[0, 30]} yRange={[1022, 896.3]}
        xTicks={[0, 10, 20, 30]} tickLabelY={1039}
        series={[
          { pts: jRightGrey, cens: jRightCensGrey, color: J_COLORS[2] },
          { pts: jRightOrange, cens: jRightCensOrange, color: J_COLORS[1] },
          { pts: jRightDark, cens: jRightCensDark, color: J_COLORS[3] },
          { pts: jRightRed, cens: jRightCensRed, color: J_COLORS[0] },
        ]}
        dashH={13.6} dashV={[4, 5.5, 6.2, 13.6]} xTitleAt={[346.5, 1050]} yTitleAt={[228, 954]}
        notes={[{ t: "Log−rank test:", x: 355.7, y: 1004 }, { t: "p= 0.019", x: 369, y: 1017 }]} />
      {["highPRGScore_highExp", "highPRGScore_lowExp", "lowPRGScore_highExp", "lowPRGScore_lowExp"].map((t, i) => {
        const y = [943.3, 955, 966.7, 976.7][i];
        return (
          <g key={t}>
            <path stroke={J_COLORS[i]} fill="none" strokeWidth={1.5} d={`M408.5,${y + 1.5}H417.5M413,${y - 2}V${y + 2.5}`} />
            <text x={420} y={y} dominantBaseline="central" fontFamily={FF} fontSize={12} fontWeight="bold" fill="#222">{t}</text>
          </g>
        );
      })}
    </svg>
  );
}
